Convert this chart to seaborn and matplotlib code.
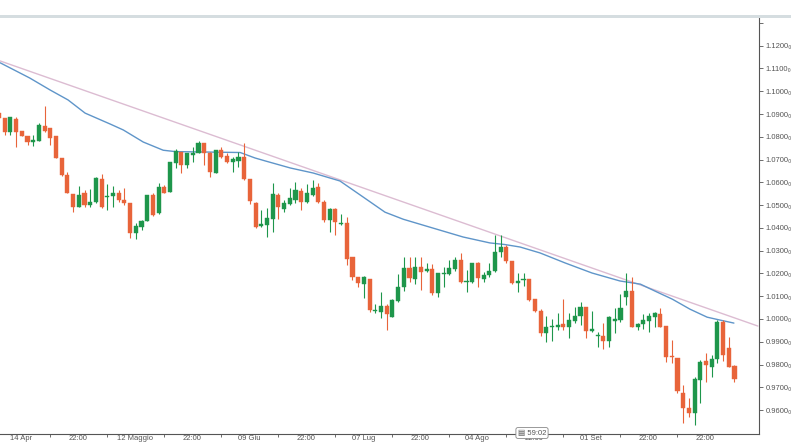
import matplotlib
matplotlib.use("Agg")
import matplotlib.pyplot as plt
from matplotlib.patches import Rectangle
import seaborn as sns
import numpy as np
import pandas as pd

# ---------------- data ----------------
opens = [1.0906, 1.0881, 1.0819, 1.0877, 1.0825, 1.0803, 1.0779, 1.0783, 1.0847, 1.0839,
         1.0803, 1.0708, 1.0632, 1.0550, 1.0493, 1.0555, 1.0500, 1.0515, 1.0615, 1.0536,
         1.0539, 1.0552, 1.0523, 1.0508, 1.0379, 1.0405, 1.0432, 1.0544, 1.0464, 1.0578,
         1.0559, 1.0683, 1.0732, 1.0675, 1.0720, 1.0730, 1.0771, 1.0730, 1.0639, 1.0742,
         1.0716, 1.0691, 1.0695, 1.0713, 1.0613, 1.0510, 1.0408, 1.0412, 1.0437, 1.0544,
         1.0483, 1.0505, 1.0522, 1.0563, 1.0515, 1.0544, 1.0578, 1.0515, 1.0434, 1.0481,
         1.0416, 1.0420, 1.0271, 1.0183, 1.0153, 1.0174, 1.0036, 1.0032, 1.0057, 1.0010,
         1.0080, 1.0142, 1.0222, 1.0174, 1.0227, 1.0212, 1.0218, 1.0112, 1.0196, 1.0197,
         1.0218, 1.0259, 1.0162, 1.0164, 1.0244, 1.0174, 1.0193, 1.0211, 1.0295, 1.0317,
         1.0256, 1.0159, 1.0171, 1.0175, 1.0088, 1.0036, 0.9940, 0.9966, 0.9963, 0.9976,
         0.9963, 0.9992, 1.0013, 1.0051, 0.9947, 0.9925, 0.9925, 0.9905, 0.9992, 0.9995,
         1.0098, 1.0123, 0.9966, 0.9978, 0.9992, 1.0007, 1.0022, 0.9969, 0.9837, 0.9827,
         0.9673, 0.9608, 0.9589, 0.9732, 0.9817, 0.9790, 0.9823, 0.9988, 0.9871, 0.9793]
highs = [1.0906, 1.0881, 1.0888, 1.0885, 1.0825, 1.0803, 1.0808, 1.0859, 1.0935, 1.0839,
         1.0803, 1.0708, 1.0647, 1.0550, 1.0584, 1.0566, 1.0569, 1.0625, 1.0636, 1.0593,
         1.0584, 1.0566, 1.0574, 1.0508, 1.0420, 1.0435, 1.0544, 1.0555, 1.0598, 1.0588,
         1.0691, 1.0745, 1.0732, 1.0730, 1.0757, 1.0783, 1.0774, 1.0735, 1.0742, 1.0757,
         1.0727, 1.0713, 1.0735, 1.0771, 1.0613, 1.0515, 1.0478, 1.0486, 1.0598, 1.0555,
         1.0522, 1.0574, 1.0603, 1.0574, 1.0593, 1.0610, 1.0598, 1.0522, 1.0486, 1.0486,
         1.0461, 1.0446, 1.0273, 1.0186, 1.0189, 1.0174, 1.0068, 1.0120, 1.0068, 1.0086,
         1.0197, 1.0271, 1.0273, 1.0271, 1.0271, 1.0244, 1.0241, 1.0203, 1.0230, 1.0259,
         1.0273, 1.0288, 1.0215, 1.0247, 1.0252, 1.0208, 1.0244, 1.0369, 1.0369, 1.0325,
         1.0256, 1.0200, 1.0200, 1.0175, 1.0088, 1.0042, 1.0013, 0.9998, 1.0028, 1.0086,
         1.0028, 1.0051, 1.0076, 1.0051, 1.0036, 0.9944, 0.9984, 1.0013, 1.0047, 1.0110,
         1.0200, 1.0186, 0.9984, 1.0022, 1.0028, 1.0032, 1.0047, 0.9969, 0.9908, 0.9827,
         0.9710, 0.9651, 0.9747, 0.9820, 0.9852, 0.9842, 0.9995, 0.9995, 0.9922, 0.9798]
lows = [1.0881, 1.0808, 1.0808, 1.0757, 1.0803, 1.0764, 1.0760, 1.0783, 1.0822, 1.0764,
        1.0705, 1.0630, 1.0552, 1.0471, 1.0490, 1.0493, 1.0493, 1.0508, 1.0486, 1.0479,
        1.0490, 1.0515, 1.0500, 1.0354, 1.0350, 1.0391, 1.0432, 1.0452, 1.0461, 1.0552,
        1.0559, 1.0661, 1.0639, 1.0661, 1.0691, 1.0727, 1.0676, 1.0625, 1.0639, 1.0705,
        1.0683, 1.0647, 1.0669, 1.0610, 1.0505, 1.0398, 1.0402, 1.0358, 1.0383, 1.0437,
        1.0471, 1.0500, 1.0508, 1.0478, 1.0508, 1.0540, 1.0508, 1.0427, 1.0383, 1.0369,
        1.0412, 1.0237, 1.0171, 1.0142, 1.0090, 1.0032, 1.0027, 1.0003, 0.9951, 1.0007,
        1.0076, 1.0124, 1.0164, 1.0153, 1.0127, 1.0208, 1.0105, 1.0095, 1.0142, 1.0193,
        1.0212, 1.0159, 1.0120, 1.0159, 1.0142, 1.0164, 1.0183, 1.0208, 1.0273, 1.0244,
        1.0153, 1.0120, 1.0145, 1.0080, 1.0032, 0.9925, 0.9900, 0.9905, 0.9952, 0.9952,
        0.9915, 0.9984, 0.9973, 0.9915, 0.9943, 0.9878, 0.9867, 0.9878, 0.9937, 0.9988,
        1.0061, 0.9963, 0.9952, 0.9954, 0.9944, 0.9966, 0.9963, 0.9812, 0.9808, 0.9673,
        0.9545, 0.9571, 0.9534, 0.9630, 0.9725, 0.9747, 0.9805, 0.9817, 0.9788, 0.9725]
closes = [1.0881, 1.0819, 1.0885, 1.0819, 1.0805, 1.0776, 1.0784, 1.0852, 1.0827, 1.0796,
          1.0708, 1.0632, 1.0555, 1.0493, 1.0544, 1.0500, 1.0515, 1.0617, 1.0490, 1.0540,
          1.0555, 1.0523, 1.0508, 1.0379, 1.0408, 1.0430, 1.0544, 1.0457, 1.0578, 1.0555,
          1.0691, 1.0739, 1.0676, 1.0727, 1.0730, 1.0774, 1.0727, 1.0647, 1.0742, 1.0713,
          1.0691, 1.0701, 1.0713, 1.0613, 1.0519, 1.0403, 1.0417, 1.0442, 1.0547, 1.0493,
          1.0508, 1.0530, 1.0566, 1.0515, 1.0552, 1.0577, 1.0515, 1.0434, 1.0481, 1.0426,
          1.0423, 1.0262, 1.0183, 1.0156, 1.0183, 1.0039, 1.0039, 1.0057, 1.0022, 1.0083,
          1.0142, 1.0222, 1.0181, 1.0227, 1.0208, 1.0218, 1.0112, 1.0200, 1.0200, 1.0225,
          1.0259, 1.0164, 1.0167, 1.0244, 1.0178, 1.0193, 1.0211, 1.0295, 1.0317, 1.0254,
          1.0159, 1.0168, 1.0175, 1.0083, 1.0036, 0.9940, 0.9966, 0.9969, 0.9973, 0.9963,
          0.9995, 1.0013, 1.0051, 0.9949, 0.9954, 0.9930, 0.9905, 1.0007, 0.9998, 1.0047,
          1.0123, 0.9966, 0.9978, 0.9995, 1.0013, 1.0025, 0.9966, 0.9834, 0.9833, 0.9685,
          0.9608, 0.9589, 0.9735, 0.9812, 0.9798, 0.9823, 0.9988, 0.9842, 0.9790, 0.9735]

# moving-average line, read as (candle index, price) points
ma_index = [0.2, 5.4, 9.0, 12.1, 15.1, 19.5, 21.8, 25.3, 28.8, 30.9, 42.3, 44.9, 46.7,
            51.1, 55.1, 59.8, 63.9, 67.7, 70.9, 75.6, 81.4, 86.1, 88.7, 91.4, 94.9,
            99.3, 104.0, 108.9, 112.5, 115.1, 118.1, 121.2, 124.2, 126.5, 128.9]
ma_value = [1.1125, 1.1058, 1.1005, 1.0962, 1.0904, 1.0856, 1.0830, 1.0777, 1.0741,
            1.0735, 1.0731, 1.0707, 1.0694, 1.0663, 1.0641, 1.0606, 1.0535, 1.0469,
            1.0438, 1.0403, 1.0360, 1.0334, 1.0327, 1.0316, 1.0290, 1.0246, 1.0202,
            1.0167, 1.0153, 1.0122, 1.0087, 1.0043, 1.0008, 0.9995, 0.9982]

# trend line (two anchor points)
trend_index = [0.2, 133.1]
trend_value = [1.1133, 0.9969]

x_tick_pos = [3.9, 13.9, 23.9, 33.9, 43.9, 53.9, 63.9, 73.9, 83.9, 93.9, 103.9, 113.9, 123.9]
x_tick_labels = ["14 Apr", "22:00", "12 Maggio", "22:00", "09 Giu", "22:00", "07 Lug",
                 "22:00", "04 Ago", "22:00", "01 Set", "22:00", "22:00"]
y_ticks = [0.96, 0.97, 0.98, 0.99, 1.00, 1.01, 1.02, 1.03, 1.04, 1.05, 1.06, 1.07,
           1.08, 1.09, 1.10, 1.11, 1.12, 1.13]

# ---------------- drawing ----------------
sns.set_theme(style="white")
plt.rcParams["font.family"] = ["Liberation Sans", "DejaVu Sans"]

W, H = 791, 446
fig = plt.figure(figsize=(W / 100, H / 100), dpi=100)
fig.patch.set_facecolor("white")

ax = fig.add_axes([0, (H - 434) / H, 759 / W, (434 - 17) / H])
ax.set_facecolor("white")

df = pd.DataFrame({"o": opens, "h": highs, "l": lows, "c": closes})
df["i"] = np.arange(len(df))
up = df["c"] >= df["o"]
GREEN = "#1e964b"
ORANGE = "#e8643a"
colors = np.where(up, GREEN, ORANGE)

# trend and MA lines
trend_df = pd.DataFrame({"i": trend_index, "v": trend_value})
ma_df = pd.DataFrame({"i": ma_index, "v": ma_value})
sns.lineplot(data=trend_df, x="i", y="v", ax=ax, color="#dcbcd2", lw=1.0, zorder=1)
sns.lineplot(data=ma_df, x="i", y="v", ax=ax, color="#5f95c9", lw=1.0, zorder=2)

# wicks and bodies
ax.vlines(df["i"], df["l"], df["h"], colors=colors, lw=0.8, zorder=3)
body_low = np.minimum(df["o"], df["c"])
body_h = np.maximum(np.abs(df["c"] - df["o"]), 0.0004)
ax.bar(df["i"], body_h, bottom=body_low, width=0.72, color=colors, edgecolor=colors,
       linewidth=0.3, zorder=4)

ax.set_xlim(0.175, 133.3)
ax.set_ylim(0.9495, 1.1326)
ax.set_xlabel("")
ax.set_ylabel("")

# axes styling
for s in ["left", "top"]:
    ax.spines[s].set_visible(False)
for s in ["right", "bottom"]:
    ax.spines[s].set_color("#555555")
    ax.spines[s].set_linewidth(0.8)

ax.yaxis.tick_right()
ax.set_yticks(y_ticks)
ax.set_yticklabels([f"{v:.4f}\u2080" if v < 1.125 else "" for v in y_ticks])
ax.tick_params(axis="y", right=True, left=False, length=3, width=0.6, color="#555555",
               labelsize=5.5, labelcolor="#555555", pad=2)

ax.set_xticks(x_tick_pos)
ax.set_xticklabels(x_tick_labels)
minor = [(a + b) / 2 for a, b in zip(x_tick_pos[:-1], x_tick_pos[1:])]
ax.set_xticks(minor, minor=True)
ax.tick_params(axis="x", which="major", bottom=True, length=0, labelsize=5.5,
               labelcolor="#555555", pad=0.5)
ax.tick_params(axis="x", which="minor", bottom=True, length=2, width=0.6, color="#555555")
ax.grid(False)

# top separator bar
fig.add_artist(Rectangle((0, 1 - 18 / H), 1, 3 / H, transform=fig.transFigure,
                         facecolor="#d5dde0", edgecolor="none"))

# countdown box
fig.text(532 / W, 1 - 433 / H, "\u25a4 59:02", fontsize=5.5, color="#555555",
         ha="center", va="center",
         bbox=dict(boxstyle="round,pad=0.25", facecolor="white", edgecolor="#888888",
                   linewidth=0.6))

fig.savefig("out.png", dpi=100, facecolor="white")
